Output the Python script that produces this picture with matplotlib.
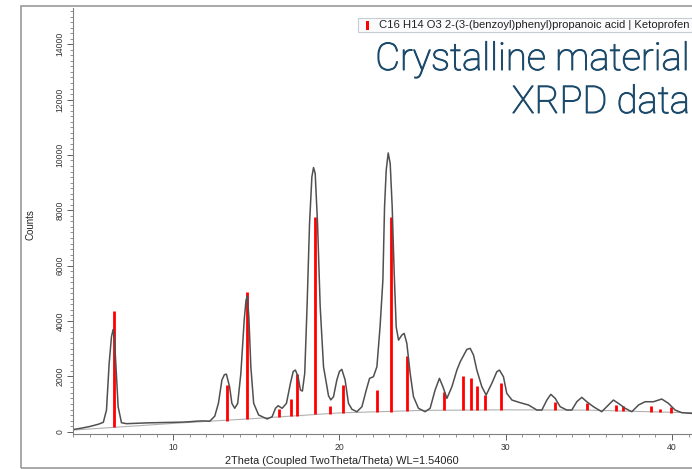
import matplotlib
matplotlib.use('Agg')
import matplotlib.pyplot as plt
import matplotlib.patheffects as pe
from matplotlib.patches import Rectangle
from matplotlib.ticker import MultipleLocator

two_theta = [4.0, 4.5, 5.0, 5.5, 5.8, 5.99, 6.15, 6.29, 6.39, 6.47, 6.55, 6.69, 6.89,
             7.19, 7.6, 8.0, 8.5, 9.2, 10.0, 10.5, 11.0, 11.4, 11.8, 12.2, 12.5,
             12.72, 12.93, 13.08, 13.2, 13.39, 13.53, 13.70, 13.88, 14.07, 14.27,
             14.38, 14.46, 14.55, 14.67, 14.84, 15.14, 15.65, 15.95, 16.15, 16.31,
             16.55, 16.81, 17.05, 17.22, 17.35, 17.51, 17.65, 17.77, 17.91, 18.05,
             18.20, 18.34, 18.44, 18.54, 18.68, 18.84, 19.04, 19.2, 19.34, 19.48,
             19.64, 19.84, 20.0, 20.14, 20.34, 20.54, 20.75, 21.05, 21.35, 21.61,
             21.81, 22.04, 22.25, 22.44, 22.61, 22.71, 22.81, 22.93, 23.05, 23.17,
             23.29, 23.41, 23.55, 23.75, 23.89, 24.05, 24.25, 24.45, 24.75, 25.15,
             25.45, 25.75, 26.01, 26.22, 26.46, 26.76, 27.06, 27.26, 27.66, 27.86,
             28.06, 28.26, 28.56, 28.82, 29.16, 29.46, 29.62, 29.86, 30.06, 30.37,
             30.87, 31.37, 31.87, 32.17, 32.47, 32.71, 32.97, 33.27, 33.67, 33.97,
             34.27, 34.57, 34.87, 35.27, 35.77, 36.07, 36.47, 36.77, 37.18, 37.58,
             37.98, 38.38, 38.88, 39.38, 39.78, 40.18, 40.59, 41.2, 42.0]
counts = [80, 130, 190, 270, 340, 784, 2469, 3430, 3697, 3300, 2469, 903, 325,
          290, 300, 310, 320, 330, 340, 345, 361, 380, 390, 380, 560,
          1025, 1866, 2060, 2080, 1625, 1025, 845, 1025, 2108, 4033,
          4750, 4900, 4152, 2347, 1025, 603, 460, 541, 845, 939,
          845, 1025, 1747, 2180, 2227, 1986, 1505, 1469, 2108, 4513,
          7523, 9206, 9545, 9329, 7523, 4513, 2347, 1800, 1300, 1150,
          1264, 1866, 2180, 2253, 1866, 1025, 809, 722, 903, 1505,
          1928, 1986, 2347, 3791, 5477, 8123, 9448, 10072, 9690, 8123,
          5718, 3791, 3310, 3491, 3552, 3191, 2108, 1264, 845, 722,
          845, 1505, 1928, 1625, 1206, 1625, 2227, 2527, 2975, 3011,
          2769, 2227, 1625, 1325, 1747, 2166, 2227, 1986, 1386, 1144,
          1047, 964, 783, 783, 1144, 1350, 1206, 903, 783, 783,
          1083, 1242, 1083, 903, 722, 903, 1144, 1025, 845, 722,
          964, 1083, 1083, 1180, 1025, 783, 686, 660, 650]

# background line
bg_theta = [4, 10, 15, 20, 25, 30, 35, 40, 42]
bg_counts = [60, 300, 480, 680, 770, 790, 780, 700, 680]

# reference pattern sticks: position, bottom (on background), top
ref_theta = [6.45, 13.23, 14.45, 16.39, 17.07, 17.45, 18.50, 19.40, 20.21, 22.27,
             23.07, 24.07, 26.27, 27.43, 27.93, 28.29, 28.75, 29.72, 32.97, 34.89,
             36.63, 37.04, 38.76, 39.26, 39.96]
ref_base = [180, 386, 448, 541, 567, 578, 628, 650, 686, 722,
            722, 748, 784, 784, 784, 784, 784, 784, 784, 784,
            748, 748, 712, 700, 686]
ref_top = [4355, 1686, 5032, 808, 1191, 2083, 7762, 940, 1675, 1505,
           7762, 2744, 1422, 2022, 1950, 1661, 1325, 1747, 1083, 1047,
           964, 939, 928, 820, 881]

legend_text = "C16 H14 O3 2-(3-(benzoyl)phenyl)propanoic acid | Ketoprofen"
title_lines = ["Crystalline material", "XRPD data"]

W, H = 692, 469
fig = plt.figure(figsize=(W / 100, H / 100), dpi=100)
fig.patch.set_facecolor('white')

def fx(px):
    return px / W

def fy(py):
    return 1 - py / H

# outer frame of the screenshot
fig.patches.append(Rectangle((fx(21), fy(468)), fx(700) - fx(21), fy(6) - fy(468),
                             transform=fig.transFigure, fill=False,
                             edgecolor='#9a9a9a', linewidth=1.2))

ax = fig.add_axes([fx(73.4), fy(434), (38 * 16.63) / W, (434 - 8) / H])
ax.plot(bg_theta, bg_counts, color='#b0b0b0', linewidth=0.8)
ax.vlines(ref_theta, ref_base, ref_top, color='#ff0000', linewidth=2.0)
ax.plot(two_theta, counts, color='#505050', linewidth=1.1)

ax.set_xlim(4, 42)
ax.set_ylim(-83, 15310)
for s in ['top', 'right']:
    ax.spines[s].set_visible(False)
for s in ['left', 'bottom']:
    ax.spines[s].set_color('#808080')
    ax.spines[s].set_linewidth(0.8)

ax.xaxis.set_major_locator(MultipleLocator(10))
ax.xaxis.set_minor_locator(MultipleLocator(1))
ax.yaxis.set_major_locator(MultipleLocator(2000))
ax.yaxis.set_minor_locator(MultipleLocator(200))
ax.tick_params(axis='both', which='major', length=4.5, width=0.7, color='#606060',
               labelsize=6.2, labelcolor='#333333', pad=2)
ax.tick_params(axis='both', which='minor', length=2.5, width=0.6, color='#808080')
ax.set_xticks([10, 20, 30, 40])
ax.set_xticklabels(['10', '20', '30', '40'], fontfamily='Liberation Sans')
ax.set_yticks([0, 2000, 4000, 6000, 8000, 10000, 12000, 14000])
ax.set_yticklabels(['0', '2000', '4000', '6000', '8000', '10000', '12000', '14000'],
                   rotation=90, va='center', fontfamily='Liberation Sans')

fig.text(fx(30), fy(225), 'Counts', rotation=90, ha='center', va='center',
         fontsize=7, family='Liberation Sans', color='#222222')
fig.text(fx(342), fy(461), '2Theta (Coupled TwoTheta/Theta) WL=1.54060',
         ha='center', va='center', fontsize=7.9, family='Liberation Sans',
         color='#222222')

# legend strip
fig.patches.append(Rectangle((fx(358), fy(32)), fx(700) - fx(358), fy(18) - fy(32),
                             transform=fig.transFigure, facecolor='#fbfbfd',
                             edgecolor='#c8ccd4', linewidth=0.8))
fig.patches.append(Rectangle((fx(366), fy(30)), fx(2.5), fy(21) - fy(30),
                             transform=fig.transFigure, facecolor='#ff0000',
                             edgecolor='none'))
fig.text(fx(379), fy(25), legend_text, ha='left', va='center', fontsize=8.1,
         family='Liberation Sans', color='#222222')

# title, light face with a thin outline to thicken it a little
title_color = '#1b4a6b'
for line, base in zip(title_lines, [70, 113]):
    fig.text(fx(690), fy(base), line, ha='right', va='baseline', fontsize=27.5,
             family='Roboto', fontweight='light', color=title_color,
             path_effects=[pe.withStroke(linewidth=0.7, foreground=title_color)])

fig.savefig('out.png', dpi=100)
